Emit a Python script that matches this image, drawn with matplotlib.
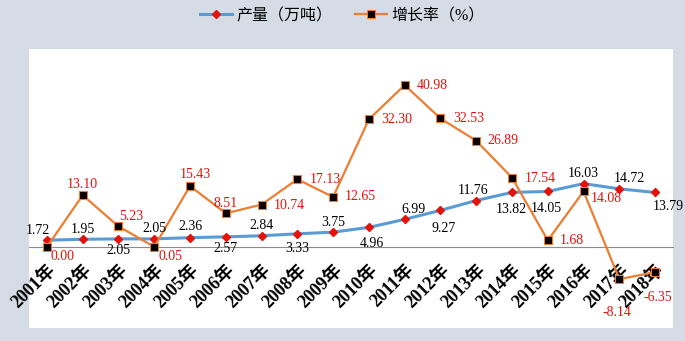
import matplotlib
matplotlib.use("Agg")
import matplotlib.pyplot as plt

years = ["2001年", "2002年", "2003年", "2004年", "2005年", "2006年", "2007年", "2008年", "2009年",
         "2010年", "2011年", "2012年", "2013年", "2014年", "2015年", "2016年", "2017年", "2018年"]
output = [1.72, 1.95, 2.05, 2.05, 2.36, 2.57, 2.84, 3.33, 3.75,
          4.96, 6.99, 9.27, 11.76, 13.82, 14.05, 16.03, 14.72, 13.79]
growth = [0.00, 13.10, 5.23, 0.05, 15.43, 8.51, 10.74, 17.13, 12.65,
          32.30, 40.98, 32.53, 26.89, 17.54, 1.68, 14.08, -8.14, -6.35]

# label offsets in pixels (dx, dy), tuned by eye
out_off = [(-9, 10), (0, 10), (0, -12), (0, 10), (0, 11), (0, -12), (0, 10), (0, -15), (0, 10),
           (3, -16), (9, 10), (3, -18), (-3, 10), (-1, -17), (-1, -17), (0, 10), (10, 10), (13, -14)]
gr_off = [(16, -10), (0, 11), (13, 10), (16, -10), (5, 12), (0, 10), (28, -1), (28, 0), (27, 0),
          (28, 0), (28, 0), (28, 0), (27, 0), (28, -1), (24, 0), (23, -7), (-2, -33), (3, -25)]

serif = ["Liberation Serif", "Noto Sans CJK SC"]
red = "#E3120B"

fig = plt.figure(figsize=(6.85, 3.41), dpi=100, facecolor="#D6DCE5")
ax = fig.add_axes([29/685, 13/341, 644/685, 279/341])
ax.set_facecolor("white")
x = list(range(len(years)))

l1, = ax.plot(x, output, color="#5B9BD5", lw=2.2, marker="D", ms=4.2,
              mfc=red, mec=red, label="产量（万吨）", zorder=3)
l2, = ax.plot(x, growth, color="#ED7D31", lw=1.6, marker="s", ms=6,
              mfc="black", mec="#ED7D31", mew=0.8, label="增长率（%）", zorder=4)

ax.set_xlim(-0.5, 17.5)
ax.set_ylim(-20.5, 50.1)
for s in ["left", "right", "top"]:
    ax.spines[s].set_visible(False)
ax.spines["bottom"].set_position(("data", 0))
ax.spines["bottom"].set_color("#8C8C8C")
ax.set_xticks([])
ax.set_yticks([])

for i, v in enumerate(output):
    ax.annotate(f"{v:.2f}", (i, v), xytext=out_off[i], textcoords="offset pixels",
                ha="center", va="center", fontsize=10, family=serif, color="black", zorder=5)
for i, v in enumerate(growth):
    ax.annotate(f"{v:.2f}", (i, v), xytext=gr_off[i], textcoords="offset pixels",
                ha="center", va="center", fontsize=10, family=serif, color=red, zorder=5)

for i, lab in enumerate(years):
    ax.annotate(lab, (i, 0), xytext=(6, -20), textcoords="offset pixels",
                rotation=45, rotation_mode="anchor", ha="right", va="center",
                fontsize=13, fontweight="bold", family=serif)

fig.legend(handles=[l1, l2], loc="center", bbox_to_anchor=(0.5, 1 - 16/341), ncol=2,
           frameon=False, prop={"family": serif, "size": 11.5},
           handlelength=2.0, columnspacing=1.4, handletextpad=0.3)

fig.savefig("out.png", dpi=100, facecolor=fig.get_facecolor())
